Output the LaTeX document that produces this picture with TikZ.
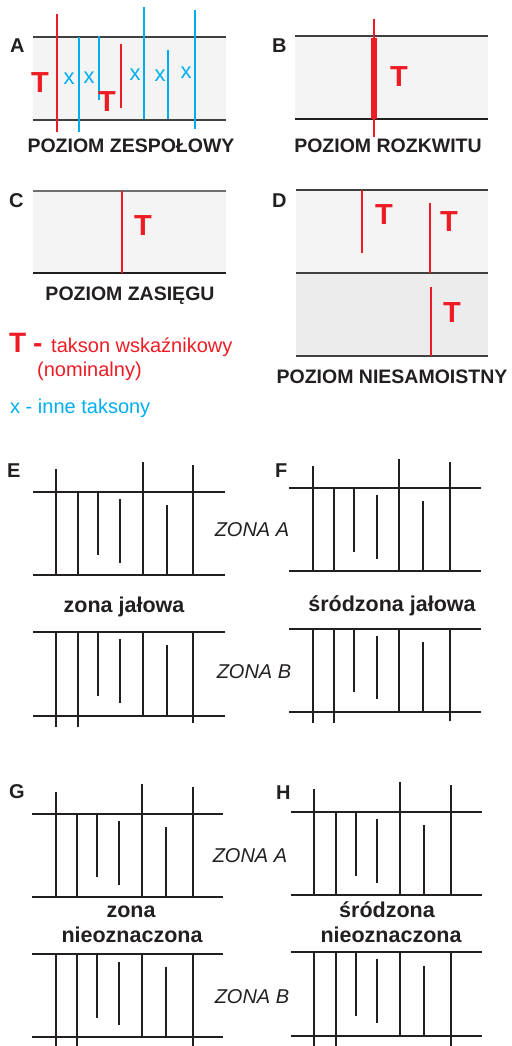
\documentclass[tikz,border=0pt]{standalone}
\usepackage{fontspec}
\setmainfont{Liberation Sans}
\definecolor{tred}{HTML}{ED1C24}
\definecolor{tblue}{HTML}{00AEEF}
\definecolor{ink}{HTML}{231F20}
\definecolor{edge}{HTML}{404041}
\definecolor{edgel}{HTML}{6D6E71}
\definecolor{band}{HTML}{F4F4F4}
\definecolor{bandd}{HTML}{ECECEC}
\begin{document}
\begin{tikzpicture}[x=1pt,y=-1pt,
  bord/.style={line width=2.3pt, draw=edge},
  bordl/.style={line width=2pt, draw=edgel},
  bordk/.style={line width=2.7pt, draw=ink},
  redl/.style={line width=2.3pt, draw=tred},
  bluel/.style={line width=2.3pt, draw=tblue},
  blk/.style={line width=2.7pt, draw=ink},
  panel/.style={font=\fontsize{20}{20}\selectfont\bfseries, text=ink, inner sep=0pt, anchor=base west},
  lbl/.style={font=\fontsize{19.5}{20}\selectfont\bfseries, text=ink, inner sep=0pt, anchor=base},
  zlbl/.style={font=\fontsize{21.5}{22}\selectfont\bfseries, text=ink, inner sep=0pt, anchor=base},
  bigT/.style={font=\fontsize{29}{29}\selectfont\bfseries, text=tred, inner sep=0pt},
  xmark/.style={font=\fontsize{22}{22}\selectfont, text=tblue, inner sep=0pt},
  zone/.style={font=\fontsize{20}{20}\selectfont\itshape, text=ink, inner sep=0pt, anchor=base},
  leg/.style={font=\fontsize{20}{20}\selectfont, inner sep=0pt, anchor=base west}
]
\useasboundingbox (0,0) rectangle (511,1046);

% ---------------- Panel A ----------------
\fill[band] (33,37) rectangle (226,120);
\draw[bord] (33,37) -- (226,37);
\draw[bord] (33,120) -- (226,120);
\node[panel] (lA) at (10,53) {A};
\draw[redl] (57,14) -- (57,132);
\draw[bluel] (79,37) -- (79,132);
\draw[bluel] (99,36) -- (99,100);
\draw[redl] (121,44) -- (121,108);
\draw[bluel] (144,7) -- (144,119);
\draw[bluel] (168,50) -- (168,119);
\draw[bluel] (195,10) -- (195,129);
\node[bigT] (tA1) at (40,83) {T};
\node[bigT] (tA2) at (107,102) {T};
\node[xmark] (xA1) at (69,79) {x};
\node[xmark] (xA2) at (89,78) {x};
\node[xmark] (xA3) at (135,75) {x};
\node[xmark] (xA4) at (160,76) {x};
\node[xmark] (xA5) at (186,73) {x};
\node[lbl] (capA) at (131,152) {POZIOM ZESPOŁOWY};

% ---------------- Panel B ----------------
\fill[band] (295,36) rectangle (488,119);
\draw[bord] (295,36) -- (488,36);
\draw[bordk] (295,119) -- (488,119);
\node[panel] (lB) at (272,53) {B};
\draw[redl] (374,19) -- (374,137);
\draw[line width=6.5pt, draw=tred] (374,38) -- (374,119);
\node[bigT] (tB) at (399,77) {T};
\node[lbl] (capB) at (388,152) {POZIOM ROZKWITU};

% ---------------- Panel C ----------------
\fill[band] (33,191) rectangle (226,273);
\draw[bordl] (33,191) -- (226,191);
\draw[bordk] (33,273) -- (226,273);
\node[panel] (lC) at (9,207) {C};
\draw[redl] (122,191) -- (122,273);
\node[bigT] (tC) at (143,226) {T};
\node[lbl] (capC) at (130,300) {POZIOM ZASIĘGU};

% ---------------- Legend ----------------
\node[leg, font=\fontsize{28}{28}\selectfont\bfseries, text=tred] (legT) at (9,352) {T};
\node[leg, font=\fontsize{28}{28}\selectfont\bfseries, text=tred] (legD) at (33,352) {-};
\node[leg, text=tred] (leg1) at (51,352) {takson wskaźnikowy};
\node[leg, text=tred] (leg2) at (37,376) {(nominalny)};
\node[leg, text=tblue] (leg3) at (10,413) {x - inne taksony};

% ---------------- Panel D ----------------
\fill[band] (296,190) rectangle (488,273);
\fill[bandd] (296,273) rectangle (488,356);
\draw[bord] (296,190) -- (488,190);
\draw[bord] (296,273) -- (488,273);
\draw[bord] (296,356) -- (488,356);
\node[panel] (lD) at (272,207) {D};
\draw[redl] (362,190) -- (362,253);
\draw[redl] (430,203) -- (430,273);
\draw[redl] (431,287) -- (431,356);
\node[bigT] (tD1) at (384,215) {T};
\node[bigT] (tD2) at (449,222) {T};
\node[bigT] (tD3) at (452,313) {T};
\node[lbl] (capD) at (392,383) {POZIOM NIESAMOISTNY};

% ---------------- Panel E ----------------
\node[panel] (lE) at (7,477) {E};
\draw[blk] (33,492) -- (225,492);
\draw[blk] (33,575) -- (225,575);
\draw[blk] (56,469) -- (56,575);
\draw[blk] (78,492) -- (78,575);
\draw[blk] (98,492) -- (98,555);
\draw[blk] (120,499) -- (120,563);
\draw[blk] (143,462) -- (143,575);
\draw[blk] (167,505) -- (167,575);
\draw[blk] (193,465) -- (193,575);
\node[zlbl] (capE) at (124,612) {zona jałowa};
\draw[blk] (33,632) -- (225,632);
\draw[blk] (33,716) -- (225,716);
\draw[blk] (56,632) -- (56,727);
\draw[blk] (78,632) -- (78,727);
\draw[blk] (98,632) -- (98,696);
\draw[blk] (120,639) -- (120,703);
\draw[blk] (143,632) -- (143,716);
\draw[blk] (167,645) -- (167,716);
\draw[blk] (193,632) -- (193,723);

% ---------------- Panel F ----------------
\node[panel] (lF) at (275,477) {F};
\draw[blk] (289,488) -- (481,488);
\draw[blk] (289,571) -- (481,571);
\draw[blk] (313,466) -- (313,571);
\draw[blk] (334,488) -- (334,571);
\draw[blk] (354,488) -- (354,552);
\draw[blk] (377,495) -- (377,559);
\draw[blk] (399,459) -- (399,571);
\draw[blk] (423,501) -- (423,571);
\draw[blk] (450,462) -- (450,571);
\node[zlbl] (capF) at (392,611) {śródzona jałowa};
\draw[blk] (289,629) -- (481,629);
\draw[blk] (289,712) -- (481,712);
\draw[blk] (313,629) -- (313,723);
\draw[blk] (334,629) -- (334,723);
\draw[blk] (354,629) -- (354,692);
\draw[blk] (377,636) -- (377,699);
\draw[blk] (399,629) -- (399,712);
\draw[blk] (423,642) -- (423,712);
\draw[blk] (450,629) -- (450,721);

\node[zone] (zEA) at (252,536) {ZONA A};
\node[zone] (zEB) at (254,678) {ZONA B};

% ---------------- Panel G ----------------
\node[panel] (lG) at (9,798) {G};
\draw[blk] (32,814) -- (223,814);
\draw[blk] (32,897) -- (223,897);
\draw[blk] (56,792) -- (56,897);
\draw[blk] (77,814) -- (77,897);
\draw[blk] (97,814) -- (97,877);
\draw[blk] (119,821) -- (119,885);
\draw[blk] (142,784) -- (142,897);
\draw[blk] (166,827) -- (166,897);
\draw[blk] (193,787) -- (193,897);
\node[zlbl] (capG1) at (131,917) {zona};
\node[zlbl] (capG2) at (132,942) {nieoznaczona};
\draw[blk] (32,954) -- (223,954);
\draw[blk] (32,1037) -- (223,1037);
\draw[blk] (56,954) -- (56,1046);
\draw[blk] (77,954) -- (77,1046);
\draw[blk] (97,954) -- (97,1018);
\draw[blk] (119,962) -- (119,1025);
\draw[blk] (142,954) -- (142,1037);
\draw[blk] (166,967) -- (166,1037);
\draw[blk] (193,954) -- (193,1046);

% ---------------- Panel H ----------------
\node[panel] (lH) at (276,799) {H};
\draw[blk] (291,812) -- (482,812);
\draw[blk] (291,895) -- (482,895);
\draw[blk] (314,789) -- (314,895);
\draw[blk] (336,812) -- (336,895);
\draw[blk] (356,812) -- (356,876);
\draw[blk] (377,819) -- (377,883);
\draw[blk] (400,782) -- (400,895);
\draw[blk] (424,825) -- (424,895);
\draw[blk] (451,785) -- (451,895);
\node[zlbl] (capH1) at (387,917) {śródzona};
\node[zlbl] (capH2) at (391,942) {nieoznaczona};
\draw[blk] (291,952) -- (482,952);
\draw[blk] (291,1036) -- (482,1036);
\draw[blk] (314,952) -- (314,1046);
\draw[blk] (336,952) -- (336,1046);
\draw[blk] (356,952) -- (356,1016);
\draw[blk] (377,959) -- (377,1023);
\draw[blk] (400,952) -- (400,1036);
\draw[blk] (424,966) -- (424,1036);
\draw[blk] (451,952) -- (451,1046);

\node[zone] (zGA) at (250,862) {ZONA A};
\node[zone] (zGB) at (252,1003) {ZONA B};
\end{tikzpicture}
\end{document}
